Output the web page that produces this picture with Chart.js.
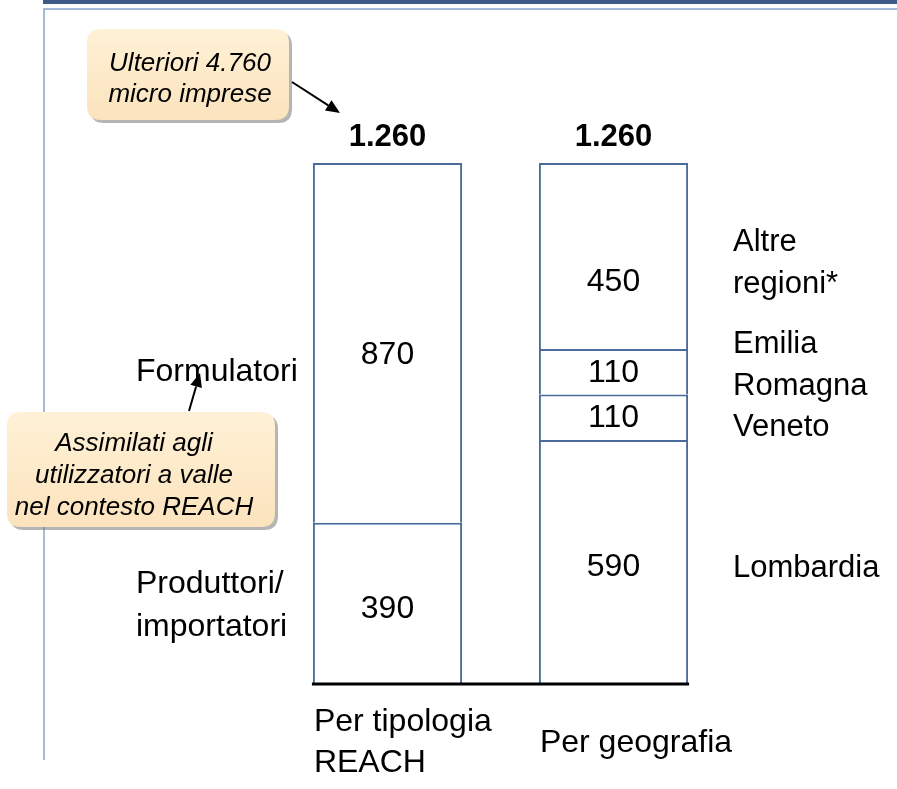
<!DOCTYPE html>
<html><head><meta charset="utf-8">
<script src="https://cdn.jsdelivr.net/npm/chart.js@4/dist/chart.umd.min.js"></script>
<style>html,body{margin:0;padding:0;background:#fff;}#wrap{position:relative;width:897px;height:789px;}</style>
</head><body><div id="wrap"><canvas id="c" width="897" height="789"></canvas></div>
<script>
// ---- data ----
const categories = ["Per tipologia REACH", "Per geografia"];
const categoryLabelLines = [["Per tipologia", "REACH"], ["Per geografia"]];
const totals = ["1.260", "1.260"];
const seriesNames = ["Seg1", "Seg2", "Seg3", "Seg4"];
const seg1 = [390, 590];   // Produttori/importatori | Lombardia
const seg2 = [870, 110];   // Formulatori | Veneto
const seg3 = [null, 110];  // - | Emilia Romagna
const seg4 = [null, 450];  // - | Altre regioni*
const valueLabels = [["390", "590"], ["870", "110"], [null, "110"], [null, "450"]];
const leftNames = [["Produttori/", "importatori"], ["Formulatori"]];
const rightNames = [["Lombardia"], ["Veneto"], ["Emilia", "Romagna"], ["Altre", "regioni*"]];
const callout1 = ["Ulteriori 4.760", "micro imprese"];
const callout2 = ["Assimilati agli", "utilizzatori a valle", "nel contesto REACH"];
const yMax = 1260;

const FONT = '"Liberation Sans", Arial, sans-serif';
const BORDER = '#4a6b9b';

function roundRect(ctx, x, y, w, h, r) {
  ctx.beginPath();
  ctx.moveTo(x + r, y);
  ctx.lineTo(x + w - r, y);
  ctx.quadraticCurveTo(x + w, y, x + w, y + r);
  ctx.lineTo(x + w, y + h - r);
  ctx.quadraticCurveTo(x + w, y + h, x + w - r, y + h);
  ctx.lineTo(x + r, y + h);
  ctx.quadraticCurveTo(x, y + h, x, y + h - r);
  ctx.lineTo(x, y + r);
  ctx.quadraticCurveTo(x, y, x + r, y);
  ctx.closePath();
}
function callout(ctx, x, y, w, h, lines, lh, tx, ty) {
  ctx.save();
  ctx.fillStyle = 'rgba(120,120,120,0.55)';
  roundRect(ctx, x + 3, y + 3, w, h, 14); ctx.fill();
  const g = ctx.createLinearGradient(0, y, 0, y + h);
  g.addColorStop(0, '#fff1d6'); g.addColorStop(1, '#fbe3bd');
  ctx.fillStyle = g;
  roundRect(ctx, x, y, w, h, 14); ctx.fill();
  ctx.fillStyle = '#000';
  ctx.font = 'italic 26px ' + FONT;
  ctx.textAlign = 'center'; ctx.textBaseline = 'middle';
  const cy = ty - (lines.length - 1) * lh / 2;
  lines.forEach((l, i) => ctx.fillText(l, tx, cy + i * lh));
  ctx.restore();
}
function arrow(ctx, x1, y1, x2, y2) {
  ctx.save();
  ctx.strokeStyle = '#000'; ctx.fillStyle = '#000'; ctx.lineWidth = 2;
  const a = Math.atan2(y2 - y1, x2 - x1);
  const L = 14, W = 6;
  const bx = x2 - L * Math.cos(a), by = y2 - L * Math.sin(a);
  ctx.beginPath(); ctx.moveTo(x1, y1); ctx.lineTo(bx, by); ctx.stroke();
  ctx.beginPath();
  ctx.moveTo(x2, y2);
  ctx.lineTo(bx + W * Math.sin(a), by - W * Math.cos(a));
  ctx.lineTo(bx - W * Math.sin(a), by + W * Math.cos(a));
  ctx.closePath(); ctx.fill();
  ctx.restore();
}

const decor = {
  id: 'decor',
  beforeDraw(chart) {
    const ctx = chart.ctx;
    ctx.save();
    ctx.fillStyle = '#fff'; ctx.fillRect(0, 0, chart.width, chart.height);
    ctx.fillStyle = '#3d5b87'; ctx.fillRect(43, 0, 854, 4);
    ctx.fillStyle = '#a3bbd8'; ctx.fillRect(43, 8, 854, 2); ctx.fillRect(43, 8, 2, 752);
    ctx.restore();
  },
  afterDraw(chart) {
    const ctx = chart.ctx;
    const metas = chart.data.datasets.map((d, i) => chart.getDatasetMeta(i));
    const b0 = metas[0].data[0], b1 = metas[0].data[1];
    const yb = chart.scales.y.getPixelForValue(0);
    const ytop = chart.scales.y.getPixelForValue(yMax);
    ctx.save();
    // baseline
    ctx.strokeStyle = '#000'; ctx.lineWidth = 3;
    ctx.beginPath();
    ctx.moveTo(b0.x - b0.width / 2 - 1, yb); ctx.lineTo(b1.x + b1.width / 2 + 1, yb); ctx.stroke();
    ctx.fillStyle = '#000';
    ctx.textBaseline = 'middle';
    // totals
    ctx.font = 'bold 31px ' + FONT; ctx.textAlign = 'center';
    [b0, b1].forEach((b, i) => ctx.fillText(totals[i], b.x, ytop - 26));
    // value labels
    const yOff = [[6, 5], [12, 1], [1, 1], [1, 26]];
    ctx.font = '32px ' + FONT;
    metas.forEach((m, di) => m.data.forEach((el, ci) => {
      const t = valueLabels[di][ci];
      if (!t) return;
      const cy = (el.y + el.base) / 2 + yOff[di][ci];
      ctx.fillText(t, el.x, cy);
    }));
    // category labels
    ctx.font = '32px ' + FONT; ctx.textAlign = 'left';
    categoryLabelLines.forEach((lines, ci) => {
      const b = ci === 0 ? b0 : b1;
      const x = b.x - b.width / 2;
      const cy = 743 - (lines.length - 1) * 41 / 2;
      lines.forEach((l, i) => ctx.fillText(l, x + 1, cy + i * 41));
    });
    // left names
    ctx.textAlign = 'left';
    const lh = 43;
    const leftY = [606, 372];
    leftNames.forEach((lines, i) => {
      const cy = leftY[i] - (lines.length - 1) * lh / 2;
      lines.forEach((l, k) => ctx.fillText(l, 136, cy + k * lh));
    });
    // right names
    ctx.font = '31px ' + FONT;
    const rightY = [568, 427, 365, 263];
    const rightX = [733, 733, 733, 733];
    rightNames.forEach((lines, i) => {
      const cy = rightY[i] - (lines.length - 1) * 42 / 2;
      lines.forEach((l, k) => ctx.fillText(l, rightX[i], cy + k * 42));
    });
    // callouts + arrows
    callout(ctx, 87, 29, 202, 91, callout1, 31, 190, 79);
    callout(ctx, 7, 412, 268, 115, callout2, 32, 134, 476);
    arrow(ctx, 292, 82, 340, 113);
    arrow(ctx, 189, 411, 200, 373);
    ctx.restore();
  }
};

const mk = (data, name) => ({
  label: name, data, backgroundColor: '#ffffff', borderColor: BORDER,
  borderWidth: { top: 2, left: 2, right: 2, bottom: 0 }, barPercentage: 1, categoryPercentage: 0.66
});

new Chart(document.getElementById('c'), {
  type: 'bar',
  data: {
    labels: categories,
    datasets: [mk(seg1, seriesNames[0]), mk(seg2, seriesNames[1]), mk(seg3, seriesNames[2]), mk(seg4, seriesNames[3])]
  },
  options: {
    responsive: false, animation: false,
    layout: { padding: { left: 274.5, right: 170.5, top: 163, bottom: 105 } },
    plugins: { legend: { display: false }, tooltip: { enabled: false } },
    scales: {
      x: { stacked: true, display: false, grid: { display: false } },
      y: { stacked: true, display: false, min: 0, max: yMax, grid: { display: false } }
    }
  },
  plugins: [decor]
});
</script></body></html>
